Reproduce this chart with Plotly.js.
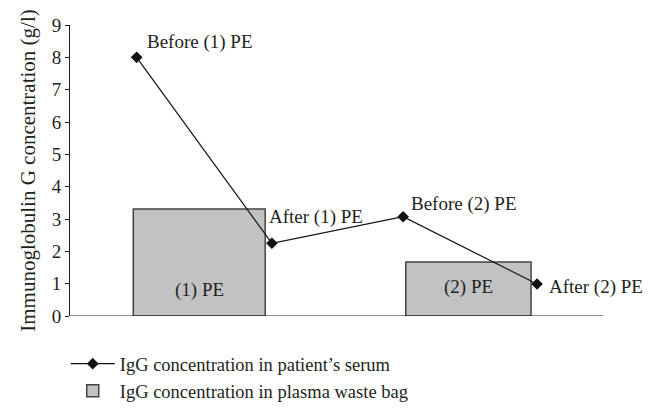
<!DOCTYPE html>
<html>
<head>
<meta charset="utf-8">
<script src="https://cdn.plot.ly/plotly-3.0.1.min.js"></script>
<style>html,body{margin:0;padding:0;background:#fff;}#chart{width:661px;height:408px;}</style>
</head>
<body>
<div id="chart"></div>
<script>
// Serum IgG concentration (g/l)
const serumLabels = ["Before (1) PE", "After (1) PE", "Before (2) PE", "After (2) PE"];
const serumValues = [8.0, 2.25, 3.07, 0.99];
const serumX = [1, 3.03, 5.0, 7.01];

// Plasma waste bag IgG concentration (g/l)
const bagLabels = ["(1) PE", "(2) PE"];
const bagValues = [3.31, 1.67];
const bagX = [1.94, 5.98];
const bagWidths = [1.98, 1.88];

const serumName = "IgG concentration in patient\u2019s serum";
const bagName = "IgG concentration in plasma waste bag";
const yTitle = "Immunoglobulin G concentration (g/l)";

const fontFam = "Liberation Serif, DejaVu Serif, serif";
const txtColor = "#231f20";

const traces = [
  {
    type: "scatter", mode: "lines+markers", name: serumName,
    x: serumX, y: serumValues,
    line: {color: "#111", width: 1.2},
    marker: {symbol: "diamond", size: 9, color: "#111"},
    hoverinfo: "none"
  },
  {
    type: "bar", name: bagName,
    x: bagX, y: bagValues, width: bagWidths,
    marker: {color: "#c1c2c4", line: {color: "#444", width: 1.5}},
    hoverinfo: "none"
  }
];

const annX = [1.13, 2.95, 5.09, 7.16];
const annY = [8.47, 3.06, 3.46, 0.9];
const annotations = serumLabels.map((t, i) => ({
  x: annX[i], y: annY[i], xref: "x", yref: "y", text: t, showarrow: false,
  xanchor: "left", yanchor: "middle", font: {family: fontFam, size: 19, color: txtColor}
}));
const bagLabelY = [0.8, 0.9];
bagLabels.forEach((t, i) => annotations.push({
  x: bagX[i], y: bagLabelY[i], xref: "x", yref: "y", text: t, showarrow: false,
  xanchor: "center", yanchor: "middle", font: {family: fontFam, size: 19, color: txtColor}
}));

const layout = {
  width: 661, height: 408,
  margin: {l: 70, r: 58, t: 25, b: 92, autoexpand: false},
  paper_bgcolor: "#fff", plot_bgcolor: "#fff",
  font: {family: fontFam, size: 19, color: txtColor},
  showlegend: true,
  legend: {
    x: -0.008, y: -0.1, xanchor: "left", yanchor: "top",
    traceorder: "normal", font: {family: fontFam, size: 18.5, color: txtColor},
    bgcolor: "rgba(0,0,0,0)", tracegroupgap: 0, itemwidth: 44
  },
  xaxis: {
    range: [0, 8], showgrid: false, zeroline: false, showticklabels: false,
    ticks: "", showline: false, fixedrange: true
  },
  yaxis: {
    range: [0, 9], dtick: 1, showgrid: false, zeroline: false,
    showline: true, linecolor: "#231f20", linewidth: 1,
    ticks: "outside", ticklen: 4, tickcolor: "#231f20",
    tickfont: {family: fontFam, size: 19, color: txtColor},
    title: {text: yTitle, font: {family: fontFam, size: 21, color: txtColor}, standoff: 10}
  },
  shapes: [{
    type: "line", xref: "x", yref: "y", x0: 0, x1: 8, y0: 0, y1: 0,
    line: {color: "#231f20", width: 1.2}
  }],
  annotations: annotations,
  bargap: 0
};

Plotly.newPlot("chart", traces, layout, {displayModeBar: false, staticPlot: true});
</script>
</body>
</html>
